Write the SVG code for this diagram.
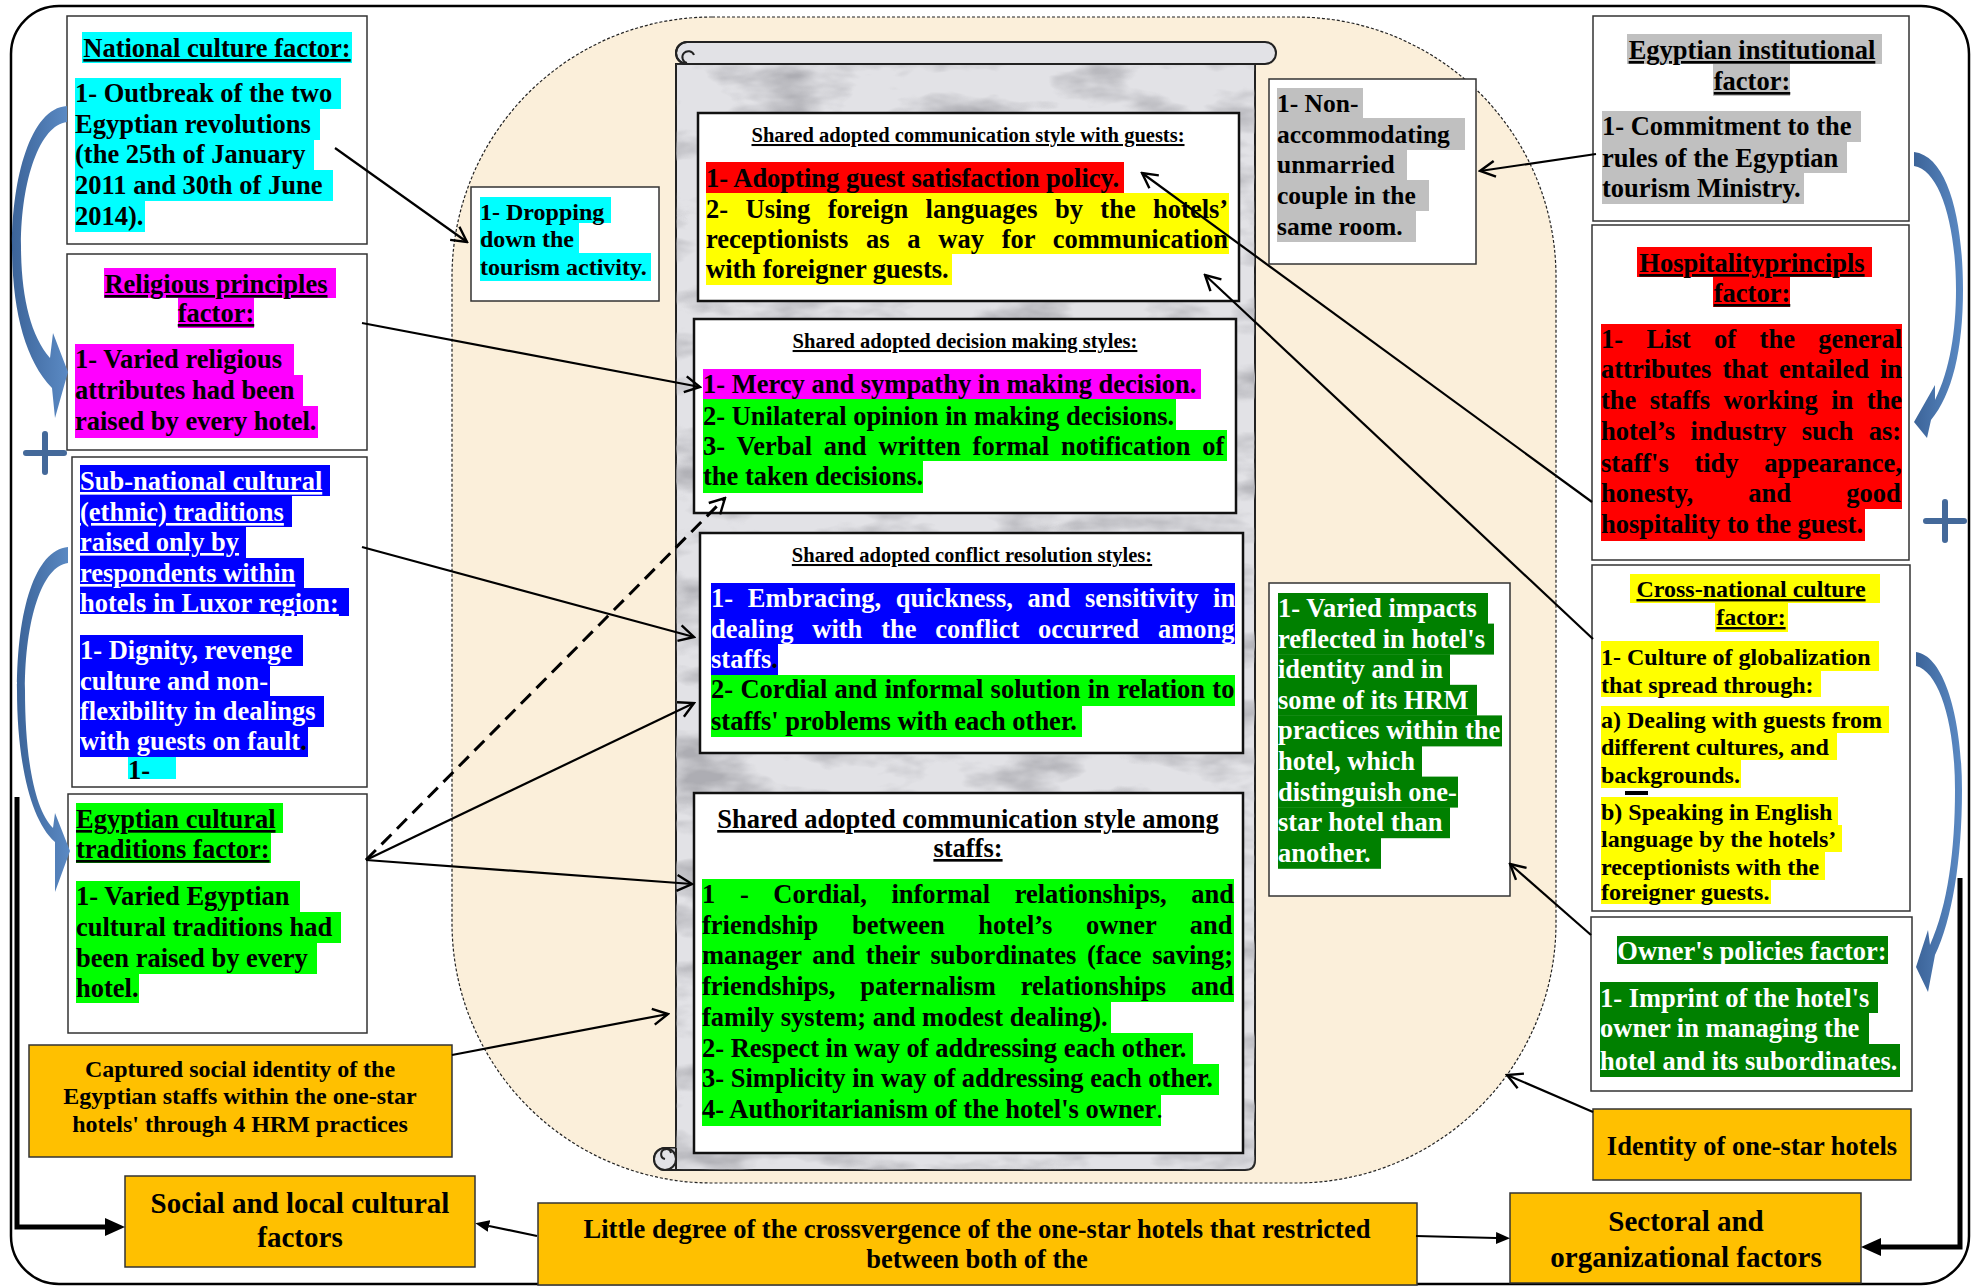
<svg xmlns="http://www.w3.org/2000/svg" width="1975" height="1288" viewBox="0 0 1975 1288">
<style>
text{font-family:"Liberation Serif","Times New Roman",serif;font-weight:bold;fill:#000}
.f26{font-size:26.5px}
.f25{font-size:25.5px}
.f24{font-size:24px}
.f21{font-size:20.5px}
.f29{font-size:29px}
.u{text-decoration:underline}
.w{fill:#fff}
.k{fill:#000}
.box{fill:#fff;stroke:#333;stroke-width:1.5}
.ibox{fill:#fff;stroke:#111;stroke-width:2.5}
.obox{fill:#FFC000;stroke:#333;stroke-width:1.5}
.cy{fill:#00FFFF}.mg{fill:#FF00FF}.bl{fill:#0000FF}.gr{fill:#00FF00}.dg{fill:#008000}.rd{fill:#FF0000}.yl{fill:#FFFF00}.gy{fill:#C0C0C0}
.ln{fill:none;stroke:#000;stroke-width:2.2}
.dash{stroke-width:3;stroke-dasharray:14,8}
.thick{stroke-width:5}
.barrow{fill:url(#bg)}
.plus{fill:none;stroke:#44699a;stroke-width:6;stroke-linecap:round}
</style>
<defs>
<marker id="oa" viewBox="0 0 20 20" refX="18" refY="10" markerWidth="20" markerHeight="20" markerUnits="userSpaceOnUse" orient="auto"><path d="M3,2 L18,10 L3,18" fill="none" stroke="#000" stroke-width="2.4"/></marker>
<marker id="fa" viewBox="0 0 20 20" refX="0" refY="10" markerWidth="20" markerHeight="20" markerUnits="userSpaceOnUse" orient="auto"><path d="M0,1 L20,10 L0,19 z" fill="#000"/></marker>
<marker id="fs" viewBox="0 0 14 14" refX="0" refY="7" markerWidth="14" markerHeight="14" markerUnits="userSpaceOnUse" orient="auto"><path d="M0,1 L14,7 L0,13 z" fill="#000"/></marker>
<linearGradient id="bg" x1="0" y1="0" x2="1" y2="0"><stop offset="0" stop-color="#3c6499"/><stop offset="1" stop-color="#5b8ac4"/></linearGradient>
<filter id="mb" x="0" y="0" width="100%" height="100%"><feTurbulence type="fractalNoise" baseFrequency="0.012 0.03" numOctaves="4" seed="5"/><feColorMatrix type="matrix" values="0 0 0 0 0.42  0 0 0 0 0.42  0 0 0 0 0.45  0 0 -2.6 0 1.45"/><feComposite in2="SourceGraphic" operator="in"/></filter>
</defs>
<rect x="0" y="0" width="1975" height="1288" fill="#fff"/>
<rect id="frame" x="11" y="6" width="1958" height="1278" rx="48" fill="none" stroke="#000" stroke-width="2.5"/>

<g id="center-area">
<rect x="452" y="17" width="1104" height="1166" rx="260" fill="#FBEFDA" stroke="#222" stroke-width="1.2" stroke-dasharray="3,2"/>
</g>

<g id="scroll">
<path d="M676,64 L1255,64 L1255,1160 Q1255,1170 1245,1170 L665,1170 A11,11 0 0 1 665,1148 L676,1148 Z" fill="#e2e2e6" stroke="#222" stroke-width="2"/>
<path d="M676,64 L1255,64 L1255,1160 Q1255,1170 1245,1170 L665,1170 A11,11 0 0 1 665,1148 L676,1148 Z" fill="#000" filter="url(#mb)"/>
<rect x="676" y="42" width="600" height="22" rx="11" fill="#e2e2e6" stroke="#222" stroke-width="2"/>
<path d="M687,64 A11,11 0 0 1 687,42 M687,63 a6,6 0 1 1 7,-8" fill="none" stroke="#222" stroke-width="2"/>
<circle cx="665" cy="1159" r="11" fill="#e2e2e6" stroke="#222" stroke-width="2"/>
<path d="M665,1159 a5,5 0 1 1 6,-6 M665,1170 H676 V1148" fill="none" stroke="#222" stroke-width="2"/>
</g>

<g id="national">
<rect class="box" x="67" y="16" width="300" height="228"/>
<rect class="cy" x="82" y="32" width="270" height="31"/>
<text class="f26 u" x="217" y="57" text-anchor="middle">National culture factor:</text>
<rect class="cy" x="75" y="78" width="266" height="31"/>
<rect class="cy" x="75" y="109" width="245" height="31"/>
<rect class="cy" x="75" y="139" width="239" height="31"/>
<rect class="cy" x="75" y="170" width="258" height="31"/>
<rect class="cy" x="75" y="201" width="70" height="31"/>
<text class="f26" x="75" y="102">1- Outbreak of the two</text>
<text class="f26" x="75" y="133">Egyptian revolutions</text>
<text class="f26" x="75" y="163">(the 25th of January</text>
<text class="f26" x="75" y="194">2011 and 30th of June</text>
<text class="f26" x="75" y="225">2014).</text>
</g>

<g id="dropping">
<rect class="box" x="471" y="187" width="188" height="114"/>
<rect class="cy" x="480" y="197" width="131" height="26"/>
<rect class="cy" x="480" y="223" width="99" height="30"/>
<rect class="cy" x="480" y="253" width="171" height="28"/>
<text class="f24" x="480" y="220">1- Dropping</text>
<text class="f24" x="480" y="247">down the</text>
<text class="f24" x="480" y="275">tourism activity.</text>
</g>

<g id="religious">
<rect class="box" x="67" y="254" width="300" height="196"/>
<rect class="mg" x="104" y="268" width="232" height="30"/>
<rect class="mg" x="178" y="298" width="76" height="30"/>
<text class="f26 u" x="216" y="293" text-anchor="middle">Religious principles</text>
<text class="f26 u" x="216" y="322" text-anchor="middle">factor:</text>
<rect class="mg" x="75" y="344" width="219" height="31"/>
<rect class="mg" x="75" y="375" width="228" height="31"/>
<rect class="mg" x="75" y="406" width="243" height="32"/>
<text class="f26" x="75" y="368">1- Varied religious</text>
<text class="f26" x="75" y="399">attributes had been</text>
<text class="f26" x="75" y="430">raised by every hotel.</text>
</g>

<g id="subnational">
<rect class="box" x="72" y="457" width="295" height="330"/>
<rect class="bl" x="80" y="465" width="250" height="31"/>
<rect class="bl" x="80" y="496" width="212" height="31"/>
<rect class="bl" x="80" y="527" width="166" height="31"/>
<rect class="bl" x="80" y="558" width="224" height="31"/>
<rect class="bl" x="80" y="588" width="269" height="28"/>
<text class="f26 u w" x="80" y="490">Sub-national cultural</text>
<text class="f26 u w" x="80" y="521">(ethnic) traditions</text>
<text class="f26 u w" x="80" y="551">raised only by</text>
<text class="f26 u w" x="80" y="582">respondents within</text>
<text class="f26 u w" x="80" y="612">hotels in Luxor region:</text>
<rect class="bl" x="80" y="635" width="223" height="31"/>
<rect class="bl" x="80" y="666" width="190" height="31"/>
<rect class="bl" x="80" y="696" width="244" height="31"/>
<rect class="bl" x="80" y="726" width="228" height="31"/>
<text class="f26 w" x="80" y="659">1- Dignity, revenge</text>
<text class="f26 w" x="80" y="690">culture and non-</text>
<text class="f26 w" x="80" y="720">flexibility in dealings</text>
<text class="f26 w" x="80" y="750">with guests on fault<tspan class="k">.</tspan></text>
<rect class="cy" x="128" y="757" width="48" height="22"/>
<text class="f26" x="128" y="779">1-</text>
</g>

<g id="egyptian-cultural">
<rect class="box" x="68" y="794" width="299" height="239"/>
<rect class="gr" x="76" y="803" width="207" height="30"/>
<rect class="gr" x="76" y="833" width="195" height="30"/>
<text class="f26 u" x="76" y="828">Egyptian cultural</text>
<text class="f26 u" x="76" y="858">traditions factor:</text>
<rect class="gr" x="76" y="881" width="224" height="31"/>
<rect class="gr" x="76" y="912" width="265" height="31"/>
<rect class="gr" x="76" y="943" width="241" height="31"/>
<rect class="gr" x="76" y="973" width="63" height="30"/>
<text class="f26" x="76" y="905">1- Varied Egyptian</text>
<text class="f26" x="76" y="936">cultural traditions had</text>
<text class="f26" x="76" y="967">been raised by every</text>
<text class="f26" x="76" y="997">hotel.</text>
</g>

<g id="captured">
<rect class="obox" x="29" y="1045" width="423" height="112"/>
<text class="f24" x="240" y="1077" text-anchor="middle">Captured social identity of the</text>
<text class="f24" x="240" y="1104" text-anchor="middle">Egyptian staffs within the one-star</text>
<text class="f24" x="240" y="1132" text-anchor="middle">hotels' through 4 HRM practices</text>
</g>

<g id="social">
<rect class="obox" x="125" y="1176" width="350" height="91"/>
<text class="f29" x="300" y="1213" text-anchor="middle">Social and local cultural</text>
<text class="f29" x="300" y="1247" text-anchor="middle">factors</text>
</g>

<g id="little-degree">
<rect class="obox" x="538" y="1203" width="879" height="82"/>
<text class="f26" x="977" y="1238" text-anchor="middle">Little degree of the crossvergence of the one-star hotels that restricted</text>
<text class="f26" x="977" y="1268" text-anchor="middle">between both of the</text>
</g>

<g id="comm-guests">
<rect class="ibox" x="698" y="113" width="541" height="188"/>
<text class="f21 u" x="968" y="142" text-anchor="middle">Shared adopted communication style with guests:</text>
<rect class="rd" x="706" y="162" width="418" height="31"/>
<rect class="yl" x="706" y="193" width="523" height="61"/>
<rect class="yl" x="706" y="254" width="246" height="31"/>
<text class="f26" x="706" y="187">1- Adopting guest satisfaction policy.</text>
<text class="f26" x="706" y="218" word-spacing="10.8">2- Using foreign languages by the hotels’</text>
<text class="f26" x="706" y="248" word-spacing="11.1">receptionists as a way for communication</text>
<text class="f26" x="706" y="278">with foreigner guests.</text>
</g>

<g id="decision">
<rect class="ibox" x="694" y="319" width="542" height="194"/>
<text class="f21 u" x="965" y="348" text-anchor="middle">Shared adopted decision making styles:</text>
<rect class="mg" x="703" y="369" width="498" height="30"/>
<rect class="gr" x="703" y="399" width="473" height="31"/>
<rect class="gr" x="703" y="430" width="524" height="31"/>
<rect class="gr" x="703" y="461" width="220" height="32"/>
<text class="f26" x="703" y="393">1- Mercy and sympathy in making decision.</text>
<text class="f26" x="703" y="425">2- Unilateral opinion in making decisions.</text>
<text class="f26" x="703" y="455" word-spacing="5.2">3- Verbal and written formal notification of</text>
<text class="f26" x="703" y="485">the taken decisions.</text>
</g>

<g id="conflict">
<rect class="ibox" x="700" y="533" width="543" height="220"/>
<text class="f21 u" x="972" y="562" text-anchor="middle">Shared adopted conflict resolution styles:</text>
<rect class="bl" x="711" y="583" width="524" height="61"/>
<rect class="bl" x="711" y="644" width="67" height="31"/>
<text class="f26 w" x="711" y="607" word-spacing="8.1">1- Embracing, quickness, and sensitivity in</text>
<text class="f26 w" x="711" y="638" word-spacing="12.2">dealing with the conflict occurred among</text>
<text class="f26 w" x="711" y="668">staffs<tspan class="k">.</tspan></text>
<rect class="gr" x="711" y="675" width="524" height="31"/>
<rect class="gr" x="711" y="706" width="371" height="31"/>
<text class="f26" x="711" y="698" word-spacing="0.7">2- Cordial and informal solution in relation to</text>
<text class="f26" x="711" y="730">staffs' problems with each other.</text>
</g>

<g id="comm-staffs">
<rect class="ibox" x="694" y="793" width="549" height="360"/>
<text class="f26 u" x="968" y="828" text-anchor="middle">Shared adopted communication style among</text>
<text class="f26 u" x="968" y="857" text-anchor="middle">staffs:</text>
<rect class="gr" x="702" y="879" width="532" height="123"/>
<rect class="gr" x="702" y="1002" width="409" height="31"/>
<rect class="gr" x="702" y="1033" width="491" height="31"/>
<rect class="gr" x="702" y="1064" width="517" height="31"/>
<rect class="gr" x="702" y="1095" width="459" height="31"/>
<text class="f26" x="702" y="903" word-spacing="18">1 - Cordial, informal relationships, and</text>
<text class="f26" x="702" y="933.7" word-spacing="27">friendship between hotel’s owner and</text>
<text class="f26" x="702" y="964.4" word-spacing="4.1">manager and their subordinates (face saving;</text>
<text class="f26" x="702" y="995.1" word-spacing="18.4">friendships, paternalism relationships and</text>
<text class="f26" x="702" y="1025.8">family system; and modest dealing).</text>
<text class="f26" x="702" y="1056.5">2- Respect in way of addressing each other.</text>
<text class="f26" x="702" y="1087.2">3- Simplicity in way of addressing each other.</text>
<text class="f26" x="702" y="1117.9">4- Authoritarianism of the hotel's owner<tspan style="font-weight:normal">.</tspan></text>
</g>

<g id="non-accommodating">
<rect class="box" x="1269" y="79" width="207" height="185"/>
<rect class="gy" x="1277" y="88" width="86" height="30"/>
<rect class="gy" x="1277" y="118" width="188" height="32"/>
<rect class="gy" x="1277" y="150" width="130" height="30"/>
<rect class="gy" x="1277" y="180" width="152" height="31"/>
<rect class="gy" x="1277" y="211" width="139" height="31"/>
<text class="f25" x="1277" y="112">1- Non-</text>
<text class="f25" x="1277" y="143">accommodating</text>
<text class="f25" x="1277" y="173">unmarried</text>
<text class="f25" x="1277" y="204">couple in the</text>
<text class="f25" x="1277" y="235">same room.</text>
</g>

<g id="institutional">
<rect class="box" x="1593" y="16" width="316" height="205"/>
<rect class="gy" x="1627" y="34" width="255" height="30"/>
<rect class="gy" x="1713" y="64" width="77" height="32"/>
<text class="f26 u" x="1752" y="59" text-anchor="middle">Egyptian institutional</text>
<text class="f26 u" x="1752" y="90" text-anchor="middle">factor:</text>
<rect class="gy" x="1602" y="111" width="259" height="31"/>
<rect class="gy" x="1602" y="142" width="245" height="31"/>
<rect class="gy" x="1602" y="173" width="202" height="31"/>
<text class="f26" x="1602" y="135">1- Commitment to the</text>
<text class="f26" x="1602" y="167">rules of the Egyptian</text>
<text class="f26" x="1602" y="197">tourism Ministry.</text>
</g>

<g id="hospitality">
<rect class="box" x="1592" y="225" width="317" height="335"/>
<rect class="rd" x="1637" y="247" width="235" height="30"/>
<rect class="rd" x="1713" y="277" width="77" height="30"/>
<text class="f26 u" x="1752" y="272" text-anchor="middle">Hospitalityprincipls</text>
<text class="f26 u" x="1752" y="302" text-anchor="middle">factor:</text>
<rect class="rd" x="1601" y="324" width="301" height="185"/>
<rect class="rd" x="1601" y="509" width="264" height="32"/>
<text class="f26" x="1601" y="348" word-spacing="16.8">1- List of the general</text>
<text class="f26" x="1601" y="378" word-spacing="4.4">attributes that entailed in</text>
<text class="f26" x="1601" y="409" word-spacing="6.8">the staffs working in the</text>
<text class="f26" x="1601" y="440" word-spacing="8.8">hotel’s industry such as:</text>
<text class="f26" x="1601" y="472" word-spacing="19.1">staff's tidy appearance,</text>
<text class="f26" x="1601" y="502" word-spacing="48.6">honesty, and good</text>
<text class="f26" x="1601" y="533">hospitality to the guest.</text>
</g>

<g id="cross-national">
<rect class="box" x="1592" y="565" width="318" height="346"/>
<rect class="yl" x="1630" y="574" width="250" height="29"/>
<rect class="yl" x="1715" y="603" width="73" height="29"/>
<text class="f24 u" x="1751" y="597" text-anchor="middle">Cross-national culture</text>
<text class="f24 u" x="1751" y="625" text-anchor="middle">factor:</text>
<rect class="yl" x="1601" y="641" width="278" height="30"/>
<rect class="yl" x="1601" y="671" width="220" height="26"/>
<rect class="yl" x="1601" y="706" width="288" height="27"/>
<rect class="yl" x="1601" y="733" width="236" height="27"/>
<rect class="yl" x="1601" y="760" width="140" height="28"/>
<rect x="1625" y="791" width="23" height="4" fill="#000"/>
<rect class="yl" x="1601" y="797" width="237" height="28"/>
<rect class="yl" x="1601" y="825" width="241" height="27"/>
<rect class="yl" x="1601" y="852" width="224" height="28"/>
<rect class="yl" x="1601" y="880" width="170" height="24"/>
<text class="f24" x="1601" y="665">1- Culture of globalization</text>
<text class="f24" x="1601" y="693">that spread through:</text>
<text class="f24" x="1601" y="728">a) Dealing with guests from</text>
<text class="f24" x="1601" y="755">different cultures, and</text>
<text class="f24" x="1601" y="783">backgrounds.</text>
<text class="f24" x="1601" y="820">b) Speaking in English</text>
<text class="f24" x="1601" y="847">language by the hotels’</text>
<text class="f24" x="1601" y="875">receptionists with the</text>
<text class="f24" x="1601" y="900">foreigner guests.</text>
</g>

<g id="varied-impacts">
<rect class="box" x="1269" y="583" width="241" height="313"/>
<rect class="dg" x="1278" y="593" width="210" height="31"/>
<rect class="dg" x="1278" y="623.6" width="216" height="31"/>
<rect class="dg" x="1278" y="654.2" width="172" height="31"/>
<rect class="dg" x="1278" y="684.8" width="199" height="31"/>
<rect class="dg" x="1278" y="715.4" width="224" height="31"/>
<rect class="dg" x="1278" y="746" width="144" height="31"/>
<rect class="dg" x="1278" y="776.6" width="180" height="31"/>
<rect class="dg" x="1278" y="807.2" width="172" height="31"/>
<rect class="dg" x="1278" y="837.8" width="103" height="31"/>
<text class="f26 w" x="1278" y="617">1- Varied impacts</text>
<text class="f26 w" x="1278" y="647.6">reflected in hotel's</text>
<text class="f26 w" x="1278" y="678.2">identity and in</text>
<text class="f26 w" x="1278" y="708.8">some of its HRM</text>
<text class="f26 w" x="1278" y="739.4">practices within the</text>
<text class="f26 w" x="1278" y="770">hotel, which</text>
<text class="f26 w" x="1278" y="800.6">distinguish one-</text>
<text class="f26 w" x="1278" y="831.2">star hotel than</text>
<text class="f26 w" x="1278" y="861.8">another.</text>
</g>

<g id="owner">
<rect class="box" x="1591" y="917" width="321" height="174"/>
<rect class="dg" x="1617" y="936" width="271" height="28"/>
<text class="f26 w" x="1752" y="960" text-anchor="middle">Owner's policies factor:</text>
<rect class="dg" x="1600" y="982" width="278" height="31"/>
<rect class="dg" x="1600" y="1013" width="269" height="31"/>
<rect class="dg" x="1600" y="1044" width="300" height="33"/>
<text class="f26 w" x="1600" y="1007">1- Imprint of the hotel's</text>
<text class="f26 w" x="1600" y="1037">owner in managing the</text>
<text class="f26 w" x="1600" y="1070">hotel and its subordinates.</text>
</g>

<g id="identity">
<rect class="obox" x="1593" y="1109" width="318" height="71"/>
<text class="f26" x="1752" y="1155" text-anchor="middle">Identity of one-star hotels</text>
</g>

<g id="sectoral">
<rect class="obox" x="1510" y="1193" width="351" height="90"/>
<text class="f29" x="1686" y="1231" text-anchor="middle">Sectoral and</text>
<text class="f29" x="1686" y="1267" text-anchor="middle">organizational factors</text>
</g>

<g id="blue-arrows">
<path class="barrow" d="M67,106 C30,108 12,180 12,245 C12,310 25,360 52,388 L55,418 L68,372 L53,333 L50,358 C30,335 21,295 21,245 C21,180 40,125 67,122 Z"/>
<path class="barrow" d="M68,547 C35,550 17,610 17,690 C17,760 30,820 55,842 L55,892 L70,851 L55,813 L53,828 C35,810 25,760 25,690 C25,620 42,566 68,563 Z"/>
<path class="barrow" d="M1914,152 C1948,156 1963,220 1963,290 C1963,350 1952,395 1931,420 L1927,438 L1914,422 L1935,385 L1935,400 C1950,370 1956,330 1956,290 C1956,225 1940,170 1914,166 Z"/>
<path class="barrow" d="M1916,652 C1945,656 1962,720 1962,790 C1962,860 1952,920 1935,955 L1928,992 L1916,967 L1928,930 L1930,945 C1948,905 1955,850 1955,790 C1955,725 1940,672 1916,666 Z"/>
<path class="plus" d="M26,453 H64 M45,434 V472"/>
<path class="plus" d="M1926,521 H1964 M1945,502 V540"/>
</g>

<g id="connectors">
<line class="ln" x1="335" y1="148" x2="467" y2="242" marker-end="url(#oa)"/>
<line class="ln" x1="362" y1="323" x2="700" y2="387" marker-end="url(#oa)"/>
<line class="ln" x1="362" y1="547" x2="694" y2="637" marker-end="url(#oa)"/>
<line class="ln dash" x1="366" y1="860" x2="725" y2="498" marker-end="url(#oa)"/>
<line class="ln" x1="366" y1="860" x2="694" y2="703" marker-end="url(#oa)"/>
<line class="ln" x1="366" y1="860" x2="692" y2="884" marker-end="url(#oa)"/>
<line class="ln" x1="452" y1="1055" x2="668" y2="1014" marker-end="url(#oa)"/>
<line class="ln" x1="1596" y1="154" x2="1480" y2="171" marker-end="url(#oa)"/>
<line class="ln" x1="1592" y1="502" x2="1142" y2="173" marker-end="url(#oa)"/>
<line class="ln" x1="1593" y1="639" x2="1205" y2="275" marker-end="url(#oa)"/>
<line class="ln" x1="1591" y1="935" x2="1510" y2="864" marker-end="url(#oa)"/>
<line class="ln" x1="1593" y1="1112" x2="1507" y2="1075" marker-end="url(#oa)"/>
<line class="ln" x1="537" y1="1236" x2="489" y2="1226" marker-end="url(#fs)"/>
<line class="ln" x1="1416" y1="1236" x2="1496" y2="1238" marker-end="url(#fs)"/>
<polyline class="ln thick" points="17,797 17,1227 105,1227" marker-end="url(#fa)"/>
<polyline class="ln thick" points="1960,878 1960,1247 1881,1247" marker-end="url(#fa)"/>
</g>
</svg>
